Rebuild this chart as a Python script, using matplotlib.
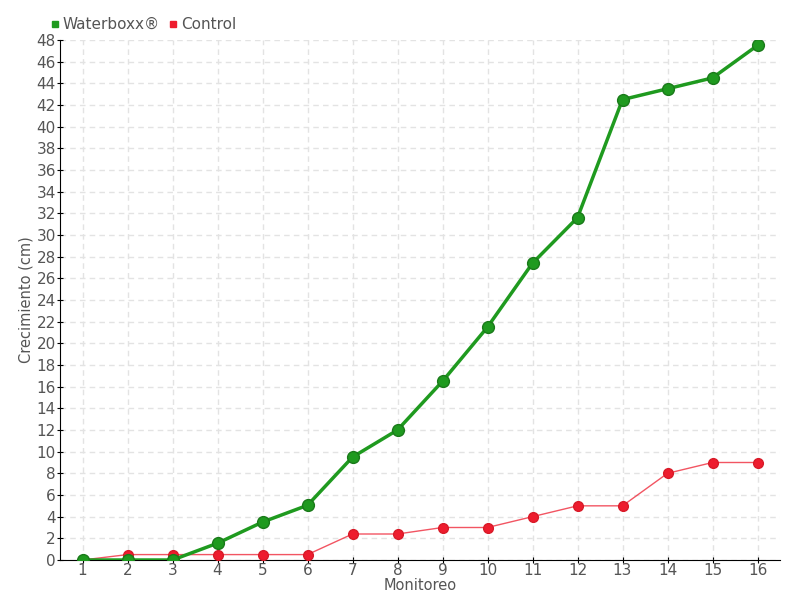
import numpy as np
import matplotlib.pyplot as plt
from matplotlib.lines import Line2D

plt.rcParams['font.family'] = ['Liberation Sans Narrow', 'DejaVu Sans']

# Datos
monitoreo = list(range(1, 17))
waterboxx = [0, 0, 0, 1.55, 3.5, 5.05, 9.5, 12, 16.5, 21.5, 27.4, 31.6, 42.5, 43.5, 44.5, 47.5]
control = [0, 0.5, 0.5, 0.5, 0.5, 0.5, 2.4, 2.4, 3, 3, 4, 5, 5, 8, 9, 9]

verde = '#1f9a1f'
rojo = '#ee1c2e'
gris = '#555555'

fig = plt.figure(figsize=(8, 6), dpi=100)
ax = fig.add_axes([60/800, 40/600, 720/800, 520/600])

# linea roja clara con puntos solidos
ax.plot(monitoreo, control, color=rojo, lw=1, alpha=0.75, zorder=3)
ax.plot(monitoreo, control, ls='', marker='o', ms=7, mfc=rojo, mec='#d81a28', zorder=3)
ax.plot(monitoreo, waterboxx, color=verde, lw=2.5, marker='o', ms=8.5,
        mfc=verde, mec='#1a7a1a', zorder=4)

ax.set_xlim(0.5, 16.5)
ax.set_ylim(0, 48)
ax.set_xticks(monitoreo)
ax.set_yticks(np.arange(0, 49, 2))
ax.grid(True, color='#e3e3e3', linestyle=(0, (4, 3)), lw=1)
ax.set_axisbelow(True)

for s in ['top', 'right']:
    ax.spines[s].set_visible(False)
ax.tick_params(axis='both', length=4, direction='inout', colors='black',
               labelcolor=gris, labelsize=11)
ax.tick_params(axis='y', pad=1)
ax.tick_params(axis='x', pad=0)

ax.set_xlabel('Monitoreo', color=gris, fontsize=10.5, labelpad=0)
ax.set_ylabel('Crecimiento (cm)', color=gris, fontsize=10.5, labelpad=2)

handles = [Line2D([], [], ls='', marker='s', ms=5, color=verde, label='Waterboxx®'),
           Line2D([], [], ls='', marker='s', ms=5, color=rojo, label='Control')]
leg = fig.legend(handles=handles, loc='upper left', bbox_to_anchor=(44/800, 1 - 11/600),
                 ncol=2, frameon=False, fontsize=11, handlelength=0.6,
                 handletextpad=0.2, columnspacing=0.6, borderaxespad=0)
for t in leg.get_texts():
    t.set_color(gris)

fig.savefig('out.png', dpi=100)
